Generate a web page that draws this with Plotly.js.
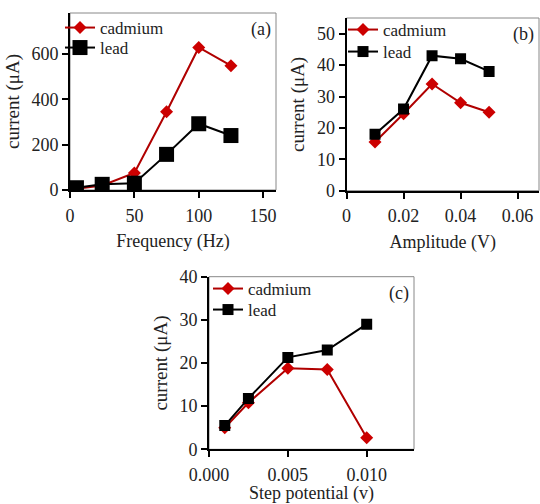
<!DOCTYPE html>
<html>
<head>
<meta charset="utf-8">
<script src="https://cdn.plot.ly/plotly-3.0.1.min.js"></script>
<style>html,body{margin:0;padding:0;background:#fff;}#chart{width:540px;height:504px;}</style>
</head>
<body>
<div id="chart"></div>
<script>
// Panel (a): frequency
const freqHz = [5, 25, 50, 75, 100, 125];
const cadmiumFreq = [5, 20, 75, 345, 628, 548];
const leadFreq = [10, 25, 30, 157, 292, 240];
// Panel (b): amplitude
const amplitudeV = [0.01, 0.02, 0.03, 0.04, 0.05];
const cadmiumAmp = [15.5, 24.5, 34, 28, 25];
const leadAmp = [18, 26, 43, 42, 38];
// Panel (c): step potential
const stepV = [0.001, 0.0025, 0.005, 0.0075, 0.01];
const cadmiumStep = [5, 10.8, 18.8, 18.5, 2.7];
const leadStep = [5.5, 11.8, 21.3, 23, 29];

const seriesNames = ['cadmium', 'lead'];
const panelLabels = ['(a)', '(b)', '(c)'];
const xTitles = ['Frequency (Hz)', 'Amplitude (V)', 'Step potential (v)'];
const yTitle = 'current (\u03bcA)';

const FONT = 'Liberation Serif';
const RED = '#cc0000', REDLINE = '#b00000';

function cad(x, y, xa, ya, lg, size) {
  return {x: x, y: y, xaxis: xa, yaxis: ya, name: seriesNames[0], legend: lg, type: 'scatter', mode: 'lines+markers',
    line: {color: REDLINE, width: 2}, marker: {symbol: 'diamond', size: size, color: RED}};
}
function pb(x, y, xa, ya, lg, size) {
  return {x: x, y: y, xaxis: xa, yaxis: ya, name: seriesNames[1], legend: lg, type: 'scatter', mode: 'lines+markers',
    line: {color: '#000', width: 2}, marker: {symbol: 'square', size: size, color: '#000'}};
}

const data = [
  cad(freqHz, cadmiumFreq, 'x', 'y', 'legend', 10),
  pb(freqHz, leadFreq, 'x', 'y', 'legend2', 15),
  cad(amplitudeV, cadmiumAmp, 'x2', 'y2', 'legend3', 10),
  pb(amplitudeV, leadAmp, 'x2', 'y2', 'legend4', 11),
  cad(stepV, cadmiumStep, 'x3', 'y3', 'legend5', 10),
  pb(stepV, leadStep, 'x3', 'y3', 'legend6', 11)
];

const TICKFONT = {family: FONT, size: 18, color: '#222'};
const TITLEFONT = {family: FONT, size: 18, color: '#222'};

function xax(domain, range, dtick, title, anchor, fmt) {
  return {domain: domain, range: range, dtick: dtick, tick0: 0, anchor: anchor, showgrid: false, zeroline: false,
    showline: true, linecolor: '#000', linewidth: 2, ticks: 'outside', ticklen: 6, tickwidth: 2, tickcolor: '#000',
    tickformat: fmt, tickfont: TICKFONT, ticklabelstandoff: 2,
    title: {text: title, font: TITLEFONT, standoff: 10}};
}
function yax(domain, range, dtick, anchor) {
  return {domain: domain, range: range, dtick: dtick, tick0: 0, anchor: anchor, showgrid: false, zeroline: false,
    showline: true, linecolor: '#000', linewidth: 2, ticks: 'outside', ticklen: 6, tickwidth: 2, tickcolor: '#000',
    tickfont: TICKFONT,
    title: {text: yTitle, font: {family: FONT, size: 19, color: '#222'}, standoff: 7}};
}

const W = 540, H = 504;
const dA = {x: [70 / W, 276 / W], y: [1 - 190 / H, 1 - 13 / H]};
const dB = {x: [346.5 / W, 539 / W], y: [1 - 190.7 / H, 1 - 18 / H]};
const dC = {x: [209 / W, 414 / W], y: [1 - 449.3 / H, 1 - 276.7 / H]};

// legend placed by the pixel position of its symbol centre row
function legendAt(px, pyCenter) {
  return {x: px / W, y: 1 - pyCenter / H, xanchor: 'left', yanchor: 'middle', bgcolor: 'rgba(0,0,0,0)', borderwidth: 0,
    font: {family: FONT, size: 17, color: '#222'}, itemsizing: 'trace'};
}

function frame(xr, yr) {
  return {type: 'rect', xref: xr + ' domain', yref: yr + ' domain', x0: 0, x1: 1, y0: 0, y1: 1,
    line: {color: '#888', width: 1}, layer: 'below'};
}
function label(text, xr, yr) {
  return {text: text, xref: xr + ' domain', yref: yr + ' domain', x: 0.985, y: 0.975, xanchor: 'right', yanchor: 'top',
    showarrow: false, font: {family: FONT, size: 18, color: '#222'}};
}

const layout = {
  width: W, height: H, margin: {l: 0, r: 0, t: 0, b: 0}, paper_bgcolor: '#fff', plot_bgcolor: 'rgba(0,0,0,0)',
  font: {family: FONT, size: 17, color: '#222'},
  showlegend: true,
  xaxis: xax(dA.x, [0, 160], 50, xTitles[0], 'y', 'd'),
  yaxis: yax(dA.y, [0, 780], 200, 'x'),
  xaxis2: xax(dB.x, [0, 0.0675], 0.02, xTitles[1], 'y2', ''),
  yaxis2: yax(dB.y, [0, 55], 10, 'x2'),
  xaxis3: xax(dC.x, [0, 0.013], 0.005, xTitles[2], 'y3', '.3f'),
  yaxis3: yax(dC.y, [0, 40], 10, 'x3'),
  legend: legendAt(60, 28),
  legend2: legendAt(60, 48),
  legend3: legendAt(343, 30),
  legend4: legendAt(343, 52),
  legend5: legendAt(208, 289),
  legend6: legendAt(208, 310),
  shapes: [frame('x', 'y'), frame('x2', 'y2'), frame('x3', 'y3')],
  annotations: [label(panelLabels[0], 'x', 'y'), label(panelLabels[1], 'x2', 'y2'), label(panelLabels[2], 'x3', 'y3')]
};

Plotly.newPlot('chart', data, layout, {displayModeBar: false, staticPlot: true});
</script>
</body>
</html>
